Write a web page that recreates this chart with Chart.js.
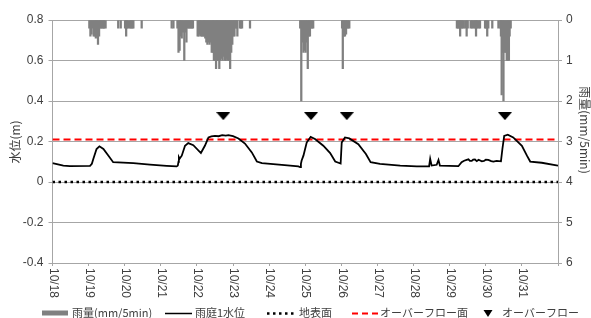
<!DOCTYPE html>
<html><head><meta charset="utf-8">
<script src="https://cdn.jsdelivr.net/npm/chart.js@4"></script>
<style>html,body{margin:0;padding:0;background:#fff;overflow:hidden}#wrap{width:591px;height:318px;position:relative}</style>
</head><body><div id="wrap"><canvas id="c" width="591" height="318"></canvas></div>
<script>
// ---- data (x = days since 10/18 00:00) ----
const dayLabels = ['10/18','10/19','10/20','10/21','10/22','10/23','10/24','10/25','10/26','10/27','10/28','10/29','10/30','10/31'];
const leftTicks = [-0.4,-0.2,0,0.2,0.4,0.6,0.8];
const rightTicks = [0,1,2,3,4,5,6];

const levelDay = [0,0.30,0.48,1.04,1.09,1.13,1.22,1.30,1.41,1.55,1.68,2.24,2.70,3.16,3.44,3.47,3.49,3.50,3.52,3.58,3.67,3.76,3.90,4.11,4.22,4.32,4.40,4.50,4.60,4.70,4.80,4.87,5.00,5.15,5.33,5.52,5.66,5.80,6.35,6.81,6.86,6.88,6.90,6.95,7.04,7.15,7.27,7.50,7.69,7.83,7.98,8.01,8.10,8.22,8.47,8.68,8.81,9.07,9.63,10.09,10.43,10.46,10.50,10.64,10.69,10.73,11.24,11.33,11.40,11.47,11.52,11.56,11.61,11.65,11.70,11.75,11.80,11.89,11.95,12.00,12.07,12.15,12.21,12.30,12.42,12.46,12.51,12.61,12.76,13.00,13.14,13.23,13.55,14.0];
const levelM   = [0.093,0.081,0.078,0.080,0.090,0.114,0.163,0.176,0.163,0.130,0.098,0.093,0.086,0.080,0.077,0.081,0.100,0.122,0.115,0.130,0.179,0.192,0.182,0.143,0.179,0.220,0.225,0.228,0.226,0.231,0.229,0.231,0.226,0.215,0.190,0.146,0.101,0.093,0.085,0.077,0.073,0.090,0.106,0.130,0.195,0.223,0.212,0.179,0.143,0.101,0.091,0.195,0.220,0.215,0.187,0.138,0.098,0.090,0.081,0.077,0.077,0.114,0.081,0.085,0.109,0.081,0.078,0.098,0.105,0.109,0.112,0.104,0.104,0.110,0.111,0.103,0.110,0.102,0.104,0.110,0.109,0.103,0.101,0.104,0.102,0.163,0.228,0.234,0.220,0.179,0.130,0.101,0.095,0.081];

const rainDay = [1.02,1.05,1.08,1.11,1.14,1.17,1.20,1.23,1.26,1.29,1.32,1.35,1.38,1.41,1.43,1.47,1.82,1.89,2.01,2.04,2.07,2.10,2.15,2.18,2.21,2.24,2.47,
  3.30,3.35,3.46,3.49,3.52,3.55,3.58,3.61,3.65,3.68,3.71,3.74,3.77,3.80,3.83,3.86,3.89,
  4.02,4.05,4.08,4.11,4.14,4.17,4.20,4.23,4.26,4.29,4.32,4.35,4.38,4.41,4.44,4.47,4.50,4.53,4.56,4.59,4.62,4.65,4.68,4.71,4.74,4.77,4.80,4.83,4.86,4.89,4.92,4.95,4.98,5.01,5.04,5.07,5.10,5.12,5.19,5.22,5.25,5.47,
  6.86,6.89,6.92,6.95,6.98,7.01,7.04,7.07,7.10,7.13,7.16,7.19,7.22,
  8.02,8.04,8.07,8.10,8.13,8.16,8.19,8.22,
  11.20,11.23,11.26,11.29,11.32,11.35,11.38,11.43,11.47,11.50,11.58,11.62,11.66,11.70,11.73,11.76,11.80,11.84,11.98,12.01,12.04,12.07,12.18,12.35,
  12.40,12.42,12.44,12.47,12.49,12.52,12.55,12.58,12.61,12.64,12.66,12.69];
const rainMm = [0.2,0.4,0.35,0.2,0.4,0.4,0.45,0.4,0.6,0.4,0.2,0.2,0.2,0.2,0.2,0.2,0.2,0.2,0.2,0.4,0.2,0.2,0.2,0.2,0.2,0.2,0.2,
  0.2,0.2,0.2,0.8,0.75,0.4,0.45,0.3,1.0,0.3,0.55,0.2,0.2,0.2,0.2,0.2,0.2,
  0.4,0.4,0.35,0.4,0.4,0.4,0.4,0.45,0.55,0.6,0.55,0.6,0.55,0.8,0.8,1.0,1.0,1.2,1.0,1.0,1.2,1.0,0.95,1.0,0.9,1.0,1.0,0.95,1.0,1.0,1.2,0.8,0.6,0.4,0.4,0.2,0.2,0.4,0.2,0.2,0.2,0.2,
  0.2,2.0,0.55,0.8,0.75,0.8,0.55,1.2,0.4,0.4,0.2,0.2,0.2,
  0.2,1.2,0.4,0.4,0.35,0.2,0.2,0.2,
  0.2,0.2,0.2,0.4,0.2,0.2,0.2,0.2,0.4,0.2,0.2,0.2,0.2,0.2,0.4,0.2,0.2,0.2,0.2,0.2,0.4,0.2,0.2,0.2,
  0.2,0.4,1.85,0.8,2.0,0.8,0.8,1.0,1.0,1.0,0.4,0.2];

const groundLevel = 0;
const overflowLevel = 0.21;
const overflowDay = [4.73, 7.16, 8.15, 12.53];
const overflowMarkM = 0.325;
const legendNames = ['雨量(mm/5min)','雨庭1水位','地表面','オーバーフロー面','オーバーフロー'];
const leftTitle = '水位(m)';
const rightTitle = '雨量(mm/5min)';

// ---- drawing ----
const FONT = '"Liberation Sans","Noto Sans CJK JP",sans-serif';
const TXT = '#404040';
const GRID = '#a6a6a6';
function tri(w,h){const c=document.createElement('canvas');c.width=w;c.height=h;const g=c.getContext('2d');g.fillStyle='#000';g.beginPath();g.moveTo(0,0);g.lineTo(w,0);g.lineTo(w/2,h);g.closePath();g.fill();return c;}
const triBig = tri(14,8);

const decor = {
  id:'decor',
  afterDraw(chart){
    const ctx=chart.ctx, xs=chart.scales.x, a=chart.chartArea;
    ctx.save();
    ctx.font='12px '+FONT; ctx.fillStyle=TXT;
    dayLabels.forEach((t,i)=>{
      const px=xs.getPixelForValue(i);
      ctx.save(); ctx.translate(px+0.5, a.bottom+5); ctx.rotate(Math.PI/2);
      ctx.textAlign='left'; ctx.textBaseline='middle'; ctx.fillText(t,0,0); ctx.restore();
    });
    ctx.font='12px "Noto Sans CJK JP",'+FONT;
    ctx.save(); ctx.translate(15,142); ctx.rotate(-Math.PI/2); ctx.textAlign='center'; ctx.textBaseline='middle'; ctx.fillText(leftTitle,0,0); ctx.restore();
    ctx.save(); ctx.translate(585,130); ctx.rotate(Math.PI/2); ctx.textAlign='center'; ctx.textBaseline='middle'; ctx.fillText(rightTitle,0,0); ctx.restore();
    // legend
    const ly=313;
    ctx.font='11px "Noto Sans CJK JP",'+FONT; ctx.textBaseline='middle'; ctx.textAlign='left';
    ctx.fillStyle='#808080'; ctx.fillRect(42,310.5,26,5);
    ctx.fillStyle=TXT; ctx.fillText(legendNames[0],72,ly);
    ctx.strokeStyle='#000'; ctx.lineWidth=1.5; ctx.beginPath(); ctx.moveTo(165,ly+0.5); ctx.lineTo(192,ly+0.5); ctx.stroke();
    ctx.fillText(legendNames[1],195,ly);
    ctx.lineWidth=2.5; ctx.setLineDash([2.5,3.5]); ctx.beginPath(); ctx.moveTo(267,ly+0.5); ctx.lineTo(294,ly+0.5); ctx.stroke();
    ctx.fillText(legendNames[2],299,ly);
    ctx.lineWidth=2; ctx.strokeStyle='#ff0000'; ctx.setLineDash([6,4]); ctx.beginPath(); ctx.moveTo(352,ly+0.5); ctx.lineTo(379,ly+0.5); ctx.stroke();
    ctx.setLineDash([]);
    ctx.fillText(legendNames[3],380,ly);
    ctx.fillStyle='#000'; ctx.beginPath(); ctx.moveTo(483.5,310); ctx.lineTo(492.5,310); ctx.lineTo(488,317); ctx.closePath(); ctx.fill();
    ctx.fillStyle=TXT; ctx.fillText(legendNames[4],502,ly);
    ctx.restore();
  }
};

new Chart(document.getElementById('c'), {
  data:{datasets:[
    {type:'bar', label:legendNames[0], yAxisID:'y2', order:5,
     data:rainDay.map((d,i)=>({x:d,y:rainMm[i]})),
     backgroundColor:'#808080', borderWidth:0, barThickness:1.6},
    {type:'line', label:legendNames[1], yAxisID:'y', order:2,
     data:levelDay.map((d,i)=>({x:d,y:levelM[i]})),
     borderColor:'#000', borderWidth:1.8, pointRadius:0, tension:0},
    {type:'line', label:legendNames[2], yAxisID:'y', order:3,
     data:[{x:0,y:groundLevel},{x:14,y:groundLevel}],
     borderColor:'#000', borderWidth:2.5, borderDash:[2.5,3.5], pointRadius:0},
    {type:'line', label:legendNames[3], yAxisID:'y', order:4,
     data:[{x:0,y:overflowLevel},{x:14,y:overflowLevel}],
     borderColor:'#ff0000', borderWidth:2, borderDash:[7,4], pointRadius:0},
    {type:'scatter', label:legendNames[4], yAxisID:'y', order:1,
     data:overflowDay.map(d=>({x:d,y:overflowMarkM})),
     pointStyle:triBig, pointRadius:7, showLine:false}
  ]},
  options:{
    responsive:false, animation:false, devicePixelRatio:1,
    layout:{padding:{top:20,left:0,right:0,bottom:0}},
    plugins:{legend:{display:false}, tooltip:{enabled:false}},
    scales:{
      x:{type:'linear', min:0, max:14, offset:false,
         afterBuildTicks(s){s.ticks=dayLabels.map((_,i)=>({value:i})).concat([{value:14}]);},
         ticks:{display:false},
         grid:{offset:false, drawOnChartArea:false, drawTicks:true, tickLength:3, color:GRID},
         border:{color:GRID},
         afterFit(s){s.height=55; s.paddingLeft=0; s.paddingRight=0;}},
      y:{position:'left', min:-0.4, max:0.8,
         afterBuildTicks(s){s.ticks=leftTicks.map(v=>({value:v}));},
         ticks:{padding:5, color:TXT, font:{family:FONT,size:12}, callback:v=>v===0?'0':v.toFixed(1)},
         grid:{color:GRID, tickLength:4},
         border:{color:GRID},
         afterFit(s){s.width=52.5;}},
      y2:{position:'right', min:0, max:6, reverse:true,
         afterBuildTicks(s){s.ticks=rightTicks.map(v=>({value:v}));},
         ticks:{padding:4, color:TXT, font:{family:FONT,size:12}, callback:v=>String(v)},
         grid:{drawOnChartArea:false, tickLength:4, color:GRID},
         border:{color:GRID},
         afterFit(s){s.width=33;}}
    }
  },
  plugins:[decor]
});
</script>
</body></html>
